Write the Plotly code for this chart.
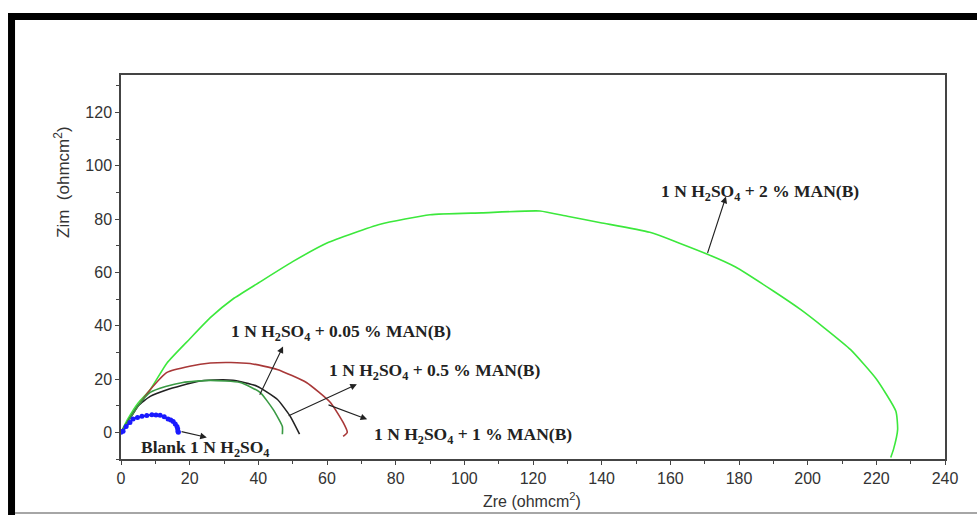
import plotly.graph_objects as go

# ---- data ----
blank_x = [0, 0.6, 1.5, 2.6, 3.5, 4.8, 6.1, 7.5, 9.0, 10.2, 11.4, 12.6, 13.7, 14.5, 15.2, 15.8, 16.3, 16.5, 16.6, 16.7]
blank_y = [0, 0.4, 2.2, 3.7, 5.0, 5.6, 6.0, 6.3, 6.6, 6.5, 6.4, 5.8, 5.0, 4.6, 4.1, 3.1, 2.2, 1.3, 0.4, 0.0]

c005_x = [0, 2, 5, 8.5, 13.4, 20, 26, 32, 37.6, 45.5, 54, 61, 64.7, 65.9, 64.7]
c005_y = [0, 4, 10, 16, 22.5, 24.8, 26, 26.2, 25.8, 23.6, 18.7, 11.2, 3.7, 0, -1.5]

c05_x = [0, 2, 5, 8.5, 13.4, 22, 27, 32.6, 39.6, 45.5, 49.3, 52]
c05_y = [0, 4, 10, 13.5, 16, 19, 19.6, 19.5, 17.3, 12.4, 6, -0.7]

c1_x = [0, 2, 5, 8.5, 13, 18, 26, 34.7, 40.5, 44.3, 47, 47]
c1_y = [0, 4, 10, 15, 17.2, 18.7, 19.5, 18.7, 15, 8.6, 2.2, -0.7]

c2_x = [0, 2, 5, 8.5, 13.4, 20, 26, 32.6, 40, 50, 60, 75.5, 90, 105, 122, 130, 139.7, 154, 171, 179, 190, 198, 205, 212.5, 220, 225.7, 226.2, 225, 224.2]
c2_y = [0, 5, 11, 16, 26, 35, 43, 50, 56, 64, 71, 78, 81.6, 82.3, 83, 81, 78.6, 75, 66.7, 62, 53, 46, 39, 31, 20, 7.9, 1, -6.4, -9.4]

x_ticks = [0, 20, 40, 60, 80, 100, 120, 140, 160, 180, 200, 220, 240]
y_ticks = [0, 20, 40, 60, 80, 100, 120]

labels = {
    "c2": "<b>1 N H<sub>2</sub>SO<sub>4</sub> + 2 % MAN(B)</b>",
    "c005": "<b>1 N H<sub>2</sub>SO<sub>4</sub> + 0.05 % MAN(B)</b>",
    "c05": "<b>1 N H<sub>2</sub>SO<sub>4</sub> + 0.5 % MAN(B)</b>",
    "c1": "<b>1 N H<sub>2</sub>SO<sub>4</sub> + 1 % MAN(B)</b>",
    "blank": "<b>Blank 1 N H<sub>2</sub>SO<sub>4</sub></b>",
}

fig = go.Figure()
fig.add_trace(go.Scatter(x=c2_x, y=c2_y, mode="lines",
                         line=dict(color="#3ce83c", width=1.6, shape="spline", smoothing=0.5)))
fig.add_trace(go.Scatter(x=c005_x, y=c005_y, mode="lines",
                         line=dict(color="#a83838", width=1.6, shape="spline", smoothing=0.5)))
fig.add_trace(go.Scatter(x=c05_x, y=c05_y, mode="lines",
                         line=dict(color="#222222", width=1.6, shape="spline", smoothing=0.5)))
fig.add_trace(go.Scatter(x=c1_x, y=c1_y, mode="lines",
                         line=dict(color="#3a9a44", width=1.6, shape="spline", smoothing=0.5)))
fig.add_trace(go.Scatter(x=blank_x, y=blank_y, mode="lines+markers",
                         line=dict(color="#1a1aff", width=2),
                         marker=dict(color="#1a1aff", size=5)))

serif = "Liberation Serif, Times New Roman, serif"
sans = "Liberation Sans, Arial, sans-serif"

# text labels
text_pos = [
    ("c2", 186.1, 89.9),
    ("c005", 64.2, 37.5),
    ("c05", 91.5, 22.9),
    ("c1", 102.5, -1.1),
    ("blank", 24.6, -6.0),
]
for key, tx, ty in text_pos:
    fig.add_annotation(x=tx, y=ty, text=labels[key], showarrow=False,
                       xanchor="center", yanchor="middle",
                       font=dict(family=serif, size=17.5, color="#222"))

# arrows: (tail_x, tail_y, head_x, head_y)
arrows = [
    (170.7, 66.7, 176.2, 88.4),
    (40.2, 13.5, 47.2, 32.2),
    (48.4, 6.0, 68.7, 18.0),
    (60.0, 10.5, 71.7, 4.9),
    (17.2, 0.4, 25.0, -1.9),
]
for tx, ty, hx, hy in arrows:
    fig.add_annotation(x=hx, y=hy, ax=tx, ay=ty, axref="x", ayref="y",
                       xref="x", yref="y", text="", showarrow=True,
                       arrowhead=2, arrowsize=1.2, arrowwidth=1.1, arrowcolor="#222")

# axis titles
fig.add_annotation(xref="paper", yref="paper", x=-0.0716, y=0.719,
                   xanchor="center", yanchor="middle",
                   text="Zim  (ohmcm<sup>2</sup>)", showarrow=False, textangle=-90,
                   font=dict(family=sans, size=17, color="#333"))
fig.add_annotation(xref="paper", yref="paper", x=0.4988, y=-0.1068,
                   xanchor="center", yanchor="middle",
                   text="Zre (ohmcm<sup>2</sup>)", showarrow=False,
                   font=dict(family=sans, size=16, color="#333"))

# page frame
fig.add_shape(type="rect", xref="paper", yref="paper", x0=-0.1371, x1=1.04, y0=1.1432, y1=1.1615,
              fillcolor="black", line=dict(width=0), layer="above")
fig.add_shape(type="rect", xref="paper", yref="paper", x0=-0.1371, x1=-0.1286, y0=-0.15, y1=1.1615,
              fillcolor="black", line=dict(width=0), layer="above")
fig.add_shape(type="line", xref="paper", yref="paper", x0=-0.1286, x1=1.04, y0=-0.1406, y1=-0.1406,
              line=dict(color="#888", width=1.5), layer="above")

axis_common = dict(showgrid=False, zeroline=False, showline=True, linecolor="#444", linewidth=1.5,
                   mirror=True, ticks="outside", ticklen=4, tickcolor="#444", tickwidth=1.2,
                   tickfont=dict(family=sans, size=16, color="#333"))
fig.update_xaxes(range=[0, 240], tickmode="array", tickvals=x_ticks,
                 minor=dict(dtick=10, ticks="outside", ticklen=3, tickcolor="#444"),
                 **axis_common)
fig.update_yaxes(range=[-10, 134], tickmode="array", tickvals=y_ticks,
                 minor=dict(dtick=10, tick0=0, ticks="outside", ticklen=3, tickcolor="#444"),
                 **axis_common)

fig.update_layout(width=977, height=515, showlegend=False,
                  margin=dict(l=121, r=32, t=75, b=56),
                  paper_bgcolor="white", plot_bgcolor="white")

fig.write_html("out.html", config={"displayModeBar": False},
               post_script="document.body.style.margin='0px';")
